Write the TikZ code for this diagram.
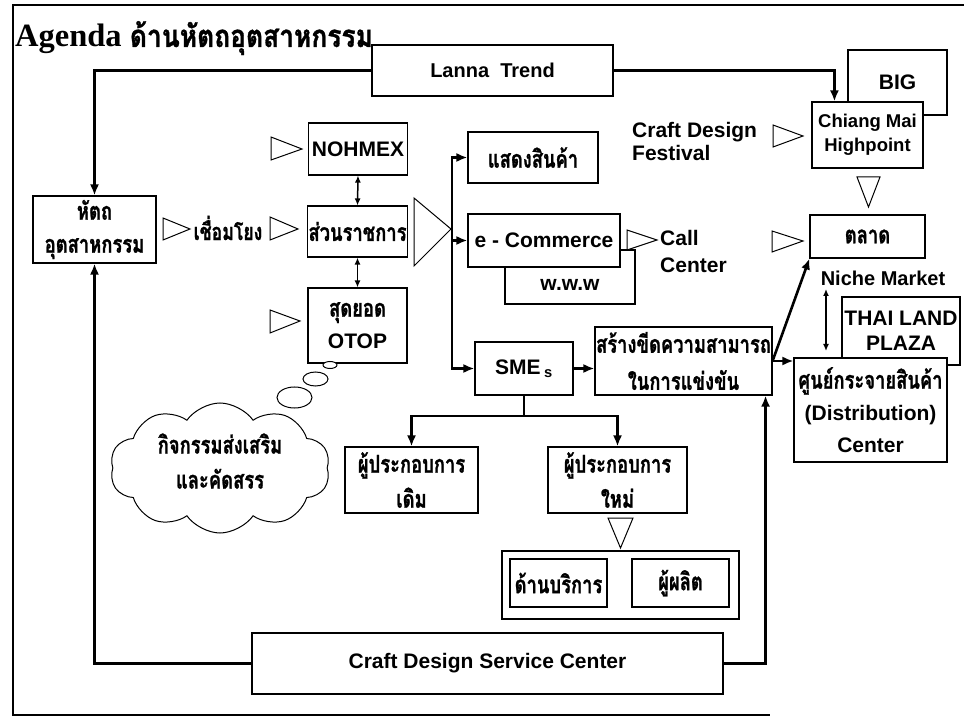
\documentclass[tikz,border=0pt]{standalone}
\usepackage{fontspec}
\setmainfont{Liberation Sans}
\newfontfamily\thaif[Script=Thai,FakeBold=1.0,FakeStretch=0.75]{Loma}
\newfontfamily\thait[Script=Thai,FakeBold=1.0,FakeStretch=0.85]{Loma}
\newfontfamily\serf{Liberation Serif}
\usetikzlibrary{arrows.meta,shapes.symbols,calc}
\begin{document}
\begin{tikzpicture}[x=1pt,y=-1pt,
  box/.style={draw,line width=1.1pt,fill=white,inner sep=1pt,align=center},
  lat/.style={font=\fontsize{21}{26}\selectfont\bfseries},
  th/.style={font=\thaif\fontsize{24.5}{34}\selectfont\bfseries},
  conn/.style={line width=2.6pt,-{Latex[length=11pt,width=9pt]}},
  dbl/.style={line width=1.5pt,{Latex[length=7pt,width=6pt]}-{Latex[length=7pt,width=6pt]}},
  tri/.style={draw,line width=1pt,fill=white,line join=miter},
  frame/.style={line width=1.8pt}]
\useasboundingbox (0,0) rectangle (964,719);
% frame
\draw[frame] (964,5) -- (13,5) -- (13,715) -- (770,715);
% title
\node[anchor=base west,inner sep=0] (title) at (15,47) {\serf\bfseries\fontsize{32.5}{32}\selectfont Agenda \thait\bfseries\fontsize{31}{30}\selectfont ด้านหัตถอุตสาหกรรม};
% top
\node[box,minimum width=241pt,minimum height=51pt,font=\fontsize{20}{24}\selectfont\bfseries] (lanna) at (492.5,70.5) {Lanna\ \ Trend};
\node[box,minimum width=99pt,minimum height=65pt,lat] (big) at (897.5,82.5) {BIG};
\node[box,minimum width=111pt,minimum height=66pt,font=\fontsize{18.5}{24}\selectfont\bfseries] (chiang) at (867.5,135) {Chiang Mai\\Highpoint};
\node[anchor=west,align=left,inner sep=0,font=\fontsize{21}{23}\selectfont\bfseries] (cdf) at (632,141.5) {Craft Design\\Festival};
\node[box,minimum width=115pt,minimum height=43pt,th] (talad) at (867.5,236.5) {ตลาด};
\node[inner sep=0,font=\fontsize{20}{24}\selectfont\bfseries] (niche) at (883,278) {Niche Market};
\node[box,minimum width=118pt,minimum height=68pt,font=\fontsize{21}{25}\selectfont\bfseries] (plaza) at (901,331) {THAI LAND\\PLAZA};
\node[box,minimum width=153pt,minimum height=104pt,font=\fontsize{21}{32}\selectfont\bfseries] (dist) at (870.5,410) {{\thaif\fontsize{24.5}{32}\selectfont ศูนย์กระจายสินค้า}\\(Distribution)\\Center};
% middle
\node[box,minimum width=130pt,minimum height=51pt,th] (show) at (533,157.5) {แสดงสินค้า};
\node[box,minimum width=130pt,minimum height=54pt] (www) at (570,277) {};
\node[inner sep=0,lat] (wwwt) at (570,285) {w.w.w};
\node[box,minimum width=152pt,minimum height=53pt,lat] (ecom) at (544,240.5) {e - Commerce};
\node[anchor=west,align=left,inner sep=0,font=\fontsize{21}{27}\selectfont\bfseries] (call) at (660,251.5) {Call\\Center};
\node[box,minimum width=98pt,minimum height=53pt,lat] (sme) at (524,368.5) {SME\,$_{\mathbf{s}}$};
\node[box,minimum width=177pt,minimum height=68pt,font=\thaif\fontsize{24.5}{37}\selectfont\bfseries] (sang) at (683.5,361) {สร้างขีดความสามารถ\\ในการแข่งขัน};
% left
\node[box,minimum width=123pt,minimum height=67pt,font=\thaif\fontsize{24.5}{33}\selectfont\bfseries] (hatta) at (94.5,229.5) {หัตถ\\อุตสาหกรรม};
\node[inner sep=0,font=\thaif\fontsize{23.5}{30}\selectfont\bfseries] (link) at (228,228) {เชื่อมโยง};
\node[box,minimum width=99pt,minimum height=52pt,lat] (nohmex) at (358,149) {NOHMEX};
\node[box,minimum width=99pt,minimum height=51pt,th] (sam) at (357.5,231.5) {ส่วนราชการ};
\node[box,minimum width=99pt,minimum height=75pt,font=\fontsize{21}{32}\selectfont\bfseries] (otop) at (357.5,325.5) {{\thaif\fontsize{24.5}{32}\selectfont สุดยอด}\\OTOP};
% cloud
\node[draw,cloud,cloud puffs=10,cloud puff arc=110,aspect=1.7,line width=1pt,minimum width=220pt,minimum height=130pt,inner sep=0,align=center,text depth=14pt,font=\thaif\fontsize{24.5}{35}\selectfont\bfseries] (cloud) at (220,468) {กิจกรรมส่งเสริม\\และคัดสรร};
\draw[line width=1pt,fill=white] (294.5,397.5) ellipse [x radius=17.5pt,y radius=10.5pt];
\draw[line width=1pt,fill=white] (315.5,379) ellipse [x radius=12.5pt,y radius=7pt];
\draw[line width=1pt,fill=white] (330,365) ellipse [x radius=7pt,y radius=3.5pt];
% bottom
\node[box,minimum width=133pt,minimum height=66pt,font=\thaif\fontsize{24.5}{35}\selectfont\bfseries] (old) at (411.5,480) {ผู้ประกอบการ\\เดิม};
\node[box,minimum width=139pt,minimum height=66pt,font=\thaif\fontsize{24.5}{35}\selectfont\bfseries] (new) at (617.5,480) {ผู้ประกอบการ\\ใหม่};
\node[box,minimum width=237pt,minimum height=68pt] (cont) at (620.5,585) {};
\node[box,minimum width=97pt,minimum height=48pt,th] (serv) at (558.5,583) {ด้านบริการ};
\node[box,minimum width=97pt,minimum height=48pt,th] (prod) at (680.5,583) {ผู้ผลิต};
\node[box,minimum width=471pt,minimum height=61pt,font=\fontsize{21}{24}\selectfont\bfseries] (cdsc) at (487.5,663.5) {Craft Design Service Center};
% hollow triangles
\draw[tri] (271,137) -- (302,149) -- (271,160) -- cycle;
\draw[tri] (270,217) -- (298,229) -- (270,240) -- cycle;
\draw[tri] (270,310) -- (300,321) -- (270,333) -- cycle;
\draw[tri] (163,218) -- (190,229) -- (163,240) -- cycle;
\draw[tri] (414,198) -- (451,229) -- (414,266) -- cycle;
\draw[tri] (627,230) -- (657,240) -- (627,250) -- cycle;
\draw[tri] (773,125) -- (803,136) -- (773,147) -- cycle;
\draw[tri] (772,231) -- (803,241) -- (772,252) -- cycle;
\draw[tri] (857,177) -- (880,177) -- (868.5,207) -- cycle;
\draw[tri] (608,518) -- (633,518) -- (620.5,548) -- cycle;
% connectors
\draw[conn] (lanna.west) -| (hatta.north);
\draw[conn] (lanna.east) -| ([xshift=23pt]chiang.north west);
\draw[conn] (cdsc.west) -| (hatta.south);
\draw[conn] (cdsc.east) -| ([xshift=-7pt]sang.south east);
\coordinate (bus) at (452,0);
\draw[conn] (bus |- sme.west) -- (bus |- show.west) -- (show.west);
\draw[conn] (bus |- show.west) -- (bus |- sme.west) -- (sme.west);
\draw[conn] (bus |- ecom.west) -- (ecom.west);
\draw[conn] (sme.east) -- (sme.east -| sang.west);
\draw[conn] (sang.east) -- (sang.east -| dist.west);
\draw[conn] (sang.east) -- (talad.south west);
\coordinate (br) at (0,416);
\draw[conn] (sme.south) -- (sme.south |- br) -| (old.north);
\draw[conn] (sme.south |- br) -| (new.north);
\draw[dbl] (nohmex.south) -- (sam.north);
\draw[dbl] (sam.south) -- (otop.north);
\coordinate (nm1) at (826,289);
\coordinate (nm2) at (826,351);
\draw[dbl] (nm1) -- (nm2);
\end{tikzpicture}
\end{document}
